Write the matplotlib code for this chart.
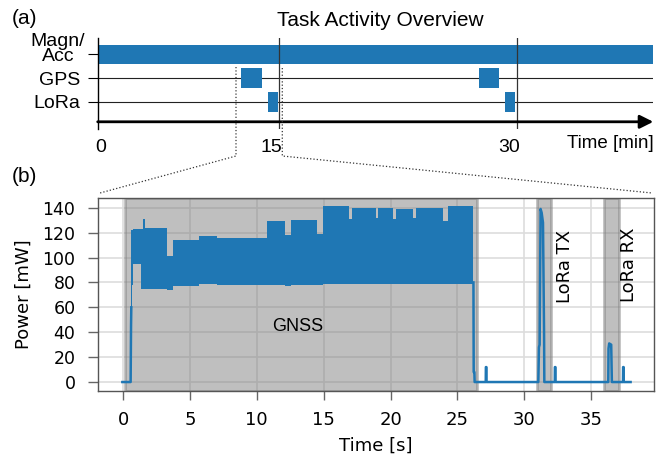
import numpy as np
import matplotlib
matplotlib.use('Agg')
import matplotlib.pyplot as plt
from matplotlib.lines import Line2D

# ---- data: top panel (minutes) ----
rows = ['Magn/\nAcc', 'GPS', 'LoRa']
magn_start, magn_end = 0.0, 40.0
gps_start = [12.6, 27.6]
gps_dur = 1.27
lora_start = [14.25, 29.27]
lora_dur = 0.64
min_ticks = [15, 30]

# ---- data: bottom panel (seconds, mW) ----
band_t    = [0.6, 0.68, 0.75, 1.32, 1.50, 1.62, 3.27, 3.72, 5.65, 7.0, 10.8, 12.1, 12.55, 14.5, 14.95,
             16.9, 17.1, 18.9, 19.1, 20.2, 20.4, 21.7, 21.9, 23.9, 24.3, 26.2]
band_low  = [45, 78, 95, 75, 75, 75, 74, 77, 79, 78, 78, 77, 78, 78, 79,
             79, 79, 79, 79, 79, 79, 79, 79, 79, 79, 79]
band_high = [122, 122, 123, 123, 131, 124, 101, 114, 117, 116, 129, 118, 130, 119, 141,
             131, 140, 132, 140, 131, 139, 132, 140, 129, 141, 141]

pre_t = [-0.05, 0.57, 0.6, 0.62]
pre_p = [0, 0, 45, 60]
post_t = [26.2, 26.22, 26.27, 26.29, 27.12, 27.13, 27.17, 27.18, 31.05, 31.1, 31.15, 31.22, 31.3, 31.4,
          31.48, 31.5, 32.28, 32.29, 32.33, 32.34, 36.28, 36.3, 36.35, 36.5, 36.55, 37.38, 37.39, 37.43,
          37.44, 37.95]
post_p = [80, 8, 8, 0, 0, 12, 12, 0, 0, 28, 30, 139, 136, 128,
          40, 0, 0, 12, 12, 0, 0, 27, 31, 30, 0, 0, 12, 12,
          0, 0]

spans = [(0.13, 26.45), (30.94, 31.98), (35.98, 37.05)]
span_labels = [('GNSS', 13.05, 45, 0), ('LoRa TX', 33.05, 93, 90), ('LoRa RX', 37.85, 94, 90)]

blue = '#1f77b4'
W, H = 665, 457
arial = 'Liberation Sans'

fig = plt.figure(figsize=(W / 100, H / 100), dpi=100)

def fx(px):
    return px / W

def fy(py):
    return 1 - py / H

# ---------------- top panel ----------------
ax1 = fig.add_axes([fx(97.7), fy(129), fx(653.3) - fx(97.7), fy(38) - fy(129)])
xmin, xmax = 3.52, 38.62
ax1.set_xlim(xmin, xmax)
ax1.set_ylim(-0.32, 3.72)
ypos = [3.0, 1.93, 0.89]

ax1.barh(ypos[0], magn_end - magn_start, left=magn_start, height=0.86, color=blue, zorder=2)
ax1.barh([ypos[1]] * len(gps_start), gps_dur, left=gps_start, height=0.89, color=blue, zorder=2)
ax1.barh([ypos[2]] * len(lora_start), lora_dur, left=lora_start, height=0.89, color=blue, zorder=2)
for y in ypos[1:]:
    ax1.axhline(y, color='#222222', lw=0.8, zorder=1)
for t in min_ticks:
    ax1.axvline(t, color='#333333', lw=0.9, zorder=3)

ax1.annotate('', xy=(xmax, 0), xytext=(xmin, 0),
             arrowprops=dict(arrowstyle='-|>', color='k', lw=2, mutation_scale=20,
                             shrinkA=0, shrinkB=0),
             annotation_clip=False)

ax1.set_xticks([3.71, 14.52, 29.5], ['0', '15', '30'])
ax1.tick_params(axis='x', length=0, pad=7)
ax1.set_yticks(ypos, [''] + rows[1:])
ax1.tick_params(axis='y', length=7.2, width=0.8, pad=5.5)
for lbl in ax1.get_xticklabels() + ax1.get_yticklabels():
    lbl.set_fontfamily(arial)
    lbl.set_fontsize(14)
ax1.text(-0.0229, ypos[0] + 0.23, rows[0], transform=ax1.get_yaxis_transform(),
         ha='right', va='center', multialignment='center', linespacing=0.78,
         fontsize=14, family=arial)
for s in ['top', 'right', 'bottom']:
    ax1.spines[s].set_visible(False)
ax1.spines['left'].set_linewidth(1)
ax1.text(1.0, -0.16, 'Time [min]', transform=ax1.transAxes, ha='right', va='center',
         fontsize=13.5, family=arial)

fig.text(fx(380), fy(21), 'Task Activity Overview', ha='center', va='center', fontsize=15, family=arial)
fig.text(fx(12), fy(18), '(a)', ha='left', va='center', fontsize=15, family=arial)
fig.text(fx(12), fy(177), '(b)', ha='left', va='center', fontsize=15, family=arial)

# ---------------- bottom panel ----------------
ax2 = fig.add_axes([fx(98), fy(391), fx(654) - fx(98), fy(198) - fy(391)])
ax2.set_xlim(-1.87, 39.7)
ax2.set_ylim(-7.2, 147.8)
ax2.set_axisbelow(True)
ax2.grid(True, color='#dddddd', lw=1.2, zorder=0)

for a, b in spans:
    ax2.axvspan(a, b, facecolor='grey', edgecolor='grey', alpha=0.5, lw=2, zorder=1)

ax2.fill_between(band_t, band_low, band_high, step='post', color=blue, lw=0, zorder=2)
ax2.plot(pre_t, pre_p, color=blue, lw=1.8, zorder=3)
ax2.plot(post_t, post_p, color=blue, lw=1.8, zorder=3)

for txt, x, y, rot in span_labels:
    fam = arial if rot == 0 else 'DejaVu Sans'
    ax2.text(x, y, txt, rotation=rot, ha='center', va='center', fontsize=13, family=fam)

ax2.set_xticks(np.arange(0, 40, 5))
ax2.set_yticks(np.arange(0, 141, 20))
ax2.tick_params(axis='x', length=6.5, width=1, color='#666666', labelsize=13, pad=8)
ax2.tick_params(axis='y', length=7.2, width=1, color='#666666', labelsize=12.5, pad=9)
for s in ax2.spines.values():
    s.set_color('#555555')
    s.set_linewidth(1)
ax2.set_xlabel('Time [s]', fontsize=13)
ax2.set_ylabel('Power [mW]', fontsize=13)
ax2.xaxis.set_label_coords(0.5, -0.235)
ax2.yaxis.set_label_coords(-0.117, 0.5)

# zoom connector lines
for pts in ([(236, 67), (236, 156), (100, 193)], [(282.3, 68), (282.3, 156), (652, 193)]):
    fig.add_artist(Line2D([fx(p[0]) for p in pts], [fy(p[1]) for p in pts],
                          transform=fig.transFigure, ls=':', lw=0.9, color='#333333'))

fig.savefig('out.png', dpi=100)
